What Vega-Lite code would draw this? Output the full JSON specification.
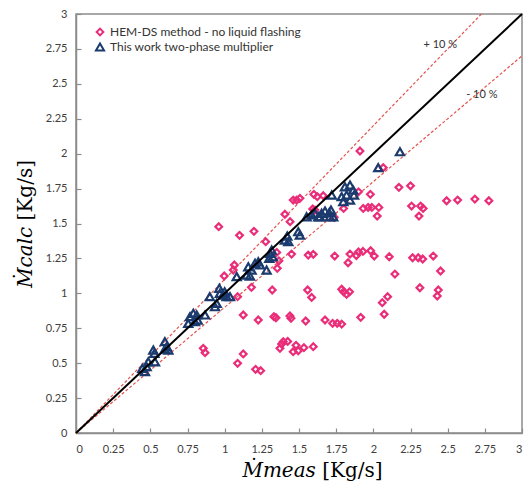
{
  "$schema": "https://vega.github.io/schema/vega-lite/v6.json",
  "width": 446,
  "height": 419,
  "autosize": {"type": "none"},
  "padding": {"left": 76, "top": 14, "right": 3, "bottom": 60},
  "config": {
    "view": {"stroke": "#8c8c8c", "strokeWidth": 1.5},
    "font": "Lato",
    "axis": {"grid": false, "domainColor": "#8c8c8c", "domainWidth": 1.5, "tickColor": "#8c8c8c", "tickSize": -5, "tickWidth": 1.2, "labelFont": "Lato", "labelFontSize": 11, "labelColor": "#404040", "labelOverlap": false, "titleFont": "DejaVu Serif", "titleFontWeight": "normal", "titleColor": "#000000"}
  },
  "datasets": {
    "pts": [
      {"x":0.96,"y":1.477,"s":"HEM"},{"x":1.10,"y":1.415,"s":"HEM"},{"x":1.197,"y":1.444,"s":"HEM"},{"x":1.276,"y":1.37,"s":"HEM"},
      {"x":1.405,"y":1.566,"s":"HEM"},{"x":1.44,"y":1.513,"s":"HEM"},{"x":1.461,"y":1.668,"s":"HEM"},{"x":1.484,"y":1.668,"s":"HEM"},
      {"x":1.506,"y":1.68,"s":"HEM"},{"x":1.60,"y":1.709,"s":"HEM"},{"x":1.623,"y":1.692,"s":"HEM"},{"x":1.663,"y":1.699,"s":"HEM"},
      {"x":1.592,"y":1.604,"s":"HEM"},{"x":1.607,"y":1.596,"s":"HEM"},{"x":1.737,"y":1.544,"s":"HEM"},{"x":1.80,"y":1.608,"s":"HEM"},
      {"x":1.91,"y":2.019,"s":"HEM"},{"x":2.067,"y":1.90,"s":"HEM"},{"x":2.172,"y":1.759,"s":"HEM"},{"x":2.25,"y":1.77,"s":"HEM"},
      {"x":1.98,"y":1.709,"s":"HEM"},{"x":1.90,"y":1.727,"s":"HEM"},{"x":1.932,"y":1.608,"s":"HEM"},{"x":1.965,"y":1.615,"s":"HEM"},
      {"x":1.99,"y":1.615,"s":"HEM"},{"x":2.037,"y":1.615,"s":"HEM"},{"x":2.026,"y":1.553,"s":"HEM"},{"x":2.257,"y":1.625,"s":"HEM"},
      {"x":2.318,"y":1.625,"s":"HEM"},{"x":2.335,"y":1.608,"s":"HEM"},{"x":2.307,"y":1.553,"s":"HEM"},{"x":2.493,"y":1.663,"s":"HEM"},
      {"x":2.567,"y":1.668,"s":"HEM"},{"x":2.683,"y":1.675,"s":"HEM"},{"x":2.777,"y":1.663,"s":"HEM"},
      {"x":1.065,"y":1.203,"s":"HEM"},{"x":1.058,"y":1.167,"s":"HEM"},{"x":0.997,"y":1.124,"s":"HEM"},{"x":1.18,"y":1.043,"s":"HEM"},
      {"x":1.087,"y":0.976,"s":"HEM"},{"x":1.32,"y":1.024,"s":"HEM"},{"x":1.365,"y":1.233,"s":"HEM"},{"x":1.354,"y":1.179,"s":"HEM"},
      {"x":1.35,"y":1.293,"s":"HEM"},{"x":1.45,"y":1.281,"s":"HEM"},{"x":1.562,"y":1.274,"s":"HEM"},{"x":1.596,"y":1.279,"s":"HEM"},
      {"x":1.74,"y":1.267,"s":"HEM"},{"x":1.83,"y":1.219,"s":"HEM"},{"x":1.843,"y":1.281,"s":"HEM"},{"x":1.886,"y":1.27,"s":"HEM"},
      {"x":1.93,"y":1.3,"s":"HEM"},{"x":1.90,"y":1.296,"s":"HEM"},{"x":1.982,"y":1.305,"s":"HEM"},{"x":2.006,"y":1.267,"s":"HEM"},
      {"x":2.107,"y":1.262,"s":"HEM"},{"x":2.145,"y":1.138,"s":"HEM"},{"x":2.264,"y":1.255,"s":"HEM"},{"x":2.302,"y":1.255,"s":"HEM"},
      {"x":2.332,"y":1.246,"s":"HEM"},{"x":2.403,"y":1.267,"s":"HEM"},{"x":2.452,"y":1.16,"s":"HEM"},
      {"x":1.558,"y":1.024,"s":"HEM"},{"x":1.585,"y":0.971,"s":"HEM"},{"x":1.787,"y":1.029,"s":"HEM"},{"x":1.80,"y":1.011,"s":"HEM"},
      {"x":1.82,"y":0.993,"s":"HEM"},{"x":1.84,"y":1.011,"s":"HEM"},{"x":2.06,"y":0.933,"s":"HEM"},{"x":2.096,"y":0.976,"s":"HEM"},
      {"x":2.073,"y":0.85,"s":"HEM"},{"x":2.313,"y":1.04,"s":"HEM"},{"x":2.437,"y":1.024,"s":"HEM"},{"x":2.43,"y":0.981,"s":"HEM"},
      {"x":1.125,"y":0.845,"s":"HEM"},{"x":1.226,"y":0.809,"s":"HEM"},{"x":1.331,"y":0.833,"s":"HEM"},{"x":1.345,"y":0.825,"s":"HEM"},
      {"x":1.439,"y":0.838,"s":"HEM"},{"x":1.446,"y":0.821,"s":"HEM"},{"x":1.545,"y":0.802,"s":"HEM"},{"x":1.675,"y":0.809,"s":"HEM"},
      {"x":1.726,"y":0.785,"s":"HEM"},{"x":1.757,"y":0.785,"s":"HEM"},{"x":1.787,"y":0.78,"s":"HEM"},{"x":1.915,"y":0.828,"s":"HEM"},
      {"x":0.856,"y":0.606,"s":"HEM"},{"x":0.868,"y":0.575,"s":"HEM"},{"x":1.125,"y":0.566,"s":"HEM"},{"x":1.087,"y":0.499,"s":"HEM"},
      {"x":1.208,"y":0.456,"s":"HEM"},{"x":1.242,"y":0.446,"s":"HEM"},{"x":1.372,"y":0.606,"s":"HEM"},{"x":1.383,"y":0.637,"s":"HEM"},
      {"x":1.394,"y":0.654,"s":"HEM"},{"x":1.424,"y":0.656,"s":"HEM"},{"x":1.48,"y":0.628,"s":"HEM"},{"x":1.461,"y":0.582,"s":"HEM"},
      {"x":1.495,"y":0.589,"s":"HEM"},{"x":1.533,"y":0.611,"s":"HEM"},{"x":1.596,"y":0.618,"s":"HEM"},
      {"x":0.446,"y":0.463,"s":"TW"},{"x":0.464,"y":0.439,"s":"TW"},{"x":0.475,"y":0.475,"s":"TW"},{"x":0.486,"y":0.51,"s":"TW"},
      {"x":0.531,"y":0.51,"s":"TW"},{"x":0.52,"y":0.594,"s":"TW"},{"x":0.527,"y":0.57,"s":"TW"},{"x":0.598,"y":0.654,"s":"TW"},
      {"x":0.61,"y":0.618,"s":"TW"},{"x":0.621,"y":0.594,"s":"TW"},{"x":0.598,"y":0.60,"s":"TW"},{"x":0.767,"y":0.833,"s":"TW"},
      {"x":0.789,"y":0.857,"s":"TW"},{"x":0.812,"y":0.845,"s":"TW"},{"x":0.80,"y":0.797,"s":"TW"},{"x":0.755,"y":0.785,"s":"TW"},
      {"x":0.818,"y":0.809,"s":"TW"},{"x":0.868,"y":0.845,"s":"TW"},{"x":0.90,"y":0.976,"s":"TW"},{"x":0.935,"y":0.904,"s":"TW"},
      {"x":0.946,"y":0.928,"s":"TW"},{"x":0.964,"y":1.036,"s":"TW"},{"x":0.968,"y":1.0,"s":"TW"},{"x":0.991,"y":0.988,"s":"TW"},
      {"x":1.0,"y":1.011,"s":"TW"},{"x":1.013,"y":0.976,"s":"TW"},{"x":1.036,"y":0.976,"s":"TW"},
      {"x":1.081,"y":1.12,"s":"TW"},{"x":1.159,"y":1.19,"s":"TW"},{"x":1.181,"y":1.167,"s":"TW"},{"x":1.204,"y":1.215,"s":"TW"},
      {"x":1.226,"y":1.226,"s":"TW"},{"x":1.237,"y":1.203,"s":"TW"},{"x":1.148,"y":1.131,"s":"TW"},{"x":1.17,"y":1.124,"s":"TW"},
      {"x":1.282,"y":1.167,"s":"TW"},{"x":1.305,"y":1.286,"s":"TW"},{"x":1.316,"y":1.31,"s":"TW"},{"x":1.323,"y":1.262,"s":"TW"},
      {"x":1.30,"y":1.25,"s":"TW"},{"x":1.405,"y":1.381,"s":"TW"},{"x":1.428,"y":1.37,"s":"TW"},{"x":1.421,"y":1.41,"s":"TW"},
      {"x":1.495,"y":1.441,"s":"TW"},{"x":1.506,"y":1.417,"s":"TW"},
      {"x":1.551,"y":1.548,"s":"TW"},{"x":1.585,"y":1.561,"s":"TW"},{"x":1.607,"y":1.573,"s":"TW"},{"x":1.63,"y":1.548,"s":"TW"},
      {"x":1.641,"y":1.548,"s":"TW"},{"x":1.652,"y":1.573,"s":"TW"},{"x":1.675,"y":1.589,"s":"TW"},{"x":1.703,"y":1.577,"s":"TW"},
      {"x":1.708,"y":1.548,"s":"TW"},{"x":1.73,"y":1.548,"s":"TW"},{"x":1.715,"y":1.596,"s":"TW"},
      {"x":1.72,"y":1.704,"s":"TW"},{"x":1.809,"y":1.763,"s":"TW"},{"x":1.843,"y":1.775,"s":"TW"},{"x":1.865,"y":1.739,"s":"TW"},
      {"x":1.82,"y":1.704,"s":"TW"},{"x":1.787,"y":1.692,"s":"TW"},{"x":1.798,"y":1.656,"s":"TW"},{"x":1.843,"y":1.668,"s":"TW"},
      {"x":1.87,"y":1.704,"s":"TW"},{"x":2.033,"y":1.90,"s":"TW"},{"x":2.179,"y":2.014,"s":"TW"}
    ],
    "eq": [{"x":0,"y":0},{"x":3,"y":3}],
    "p10": [{"x":0,"y":0},{"x":2.727,"y":3}],
    "m10": [{"x":0,"y":0},{"x":3,"y":2.7}],
    "lab": [{"x":2.45,"y":2.78,"t":"+ 10 %"},{"x":2.73,"y":2.42,"t":"- 10 %"}]
  },
  "encoding": {
    "x": {"field": "x", "type": "quantitative", "scale": {"domain": [0, 3], "nice": false},
      "axis": {"values": [0,0.25,0.5,0.75,1,1.25,1.5,1.75,2,2.25,2.5,2.75,3], "labelOverlap": false, "labelExpr": "format(datum.value, '~g')", "labelPadding": 15, "title": "𝑀̇𝑚𝑒𝑎𝑠 [Kg/s]", "titleFontSize": 20, "titlePadding": 6, "titleX": 236}},
    "y": {"field": "y", "type": "quantitative", "scale": {"domain": [0, 3], "nice": false},
      "axis": {"values": [0,0.25,0.5,0.75,1,1.25,1.5,1.75,2,2.25,2.5,2.75,3], "labelOverlap": false, "labelExpr": "format(datum.value, '~g')", "labelPadding": 14, "title": "𝑀̇𝑐𝑎𝑙𝑐 [Kg/s]", "titleFontSize": 20, "titlePadding": 10}}
  },
  "layer": [
    {
      "data": {"name": "p10"},
      "mark": {"type": "line", "color": "#e2544e", "strokeWidth": 1.2, "strokeDash": [3, 2]}
    },
    {
      "data": {"name": "m10"},
      "mark": {"type": "line", "color": "#e2544e", "strokeWidth": 1.2, "strokeDash": [3, 2]}
    },
    {
      "data": {"name": "pts"},
      "mark": {"type": "point", "filled": false, "strokeWidth": 2.2, "opacity": 1},
      "encoding": {
        "color": {"field": "s", "type": "nominal", "scale": {"domain": ["HEM", "TW"], "range": ["#ea2d78", "#1b3a6e"]},
          "legend": {"title": null, "orient": "none", "legendX": 18, "legendY": 12, "labelFont": "Lato", "labelFontSize": 12, "labelColor": "#333333", "labelLimit": 0, "symbolStrokeWidth": 2, "symbolSize": 45, "rowPadding": -1,
            "labelExpr": "datum.label == 'HEM' ? 'HEM-DS method - no liquid flashing' : 'This work two-phase multiplier'"}},
        "shape": {"field": "s", "type": "nominal", "scale": {"domain": ["HEM", "TW"], "range": ["diamond", "triangle-up"]}},
        "size": {"field": "s", "type": "nominal", "scale": {"domain": ["HEM", "TW"], "range": [45, 66]}, "legend": null}
      }
    },
    {
      "data": {"name": "eq"},
      "mark": {"type": "line", "color": "#000000", "strokeWidth": 2}
    },
    {
      "data": {"name": "lab"},
      "mark": {"type": "text", "font": "Lato", "fontSize": 11, "color": "#333333"},
      "encoding": {"text": {"field": "t"}}
    }
  ]
}
